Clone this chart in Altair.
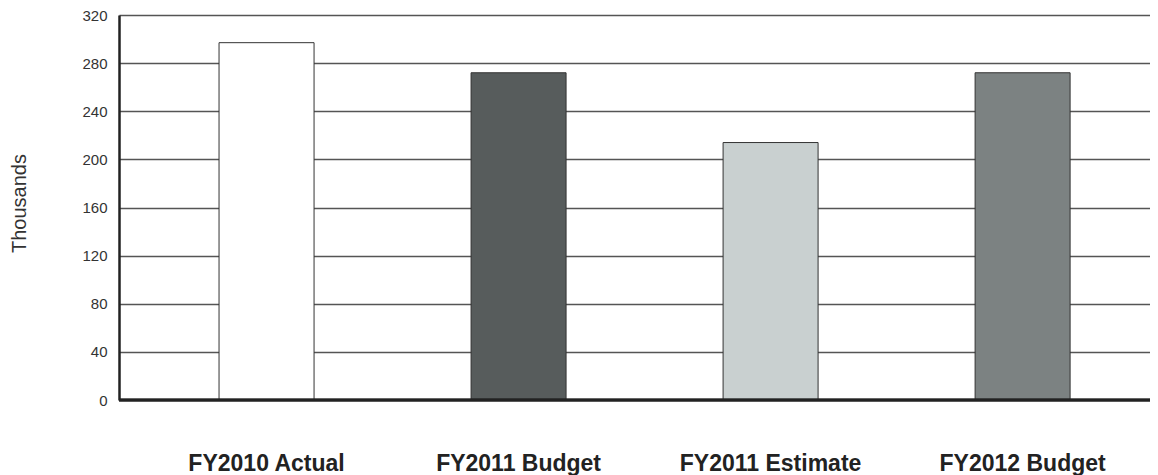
import altair as alt
import pandas as pd

categories = ["FY2010 Actual", "FY2011 Budget", "FY2011 Estimate", "FY2012 Budget"]
values = [297, 272, 214, 272]
colors = ["#ffffff", "#575c5c", "#c9d0d0", "#7c8282"]

df = pd.DataFrame({"cat": categories, "val": values})

chart = alt.Chart(df).mark_bar(stroke="#333333", strokeWidth=1).encode(
    x=alt.X("cat:N", sort=categories,
            scale=alt.Scale(paddingInner=0.623, paddingOuter=0.357, align=0.556),
            axis=alt.Axis(title=None, labelAngle=0, ticks=False, domain=False,
                          labelFont="Liberation Sans", labelFontSize=23, labelFontWeight="bold",
                          labelColor="#222222", labelPadding=52, labelBaseline="top",
                          labelLimit=0)),
    y=alt.Y("val:Q", scale=alt.Scale(domain=[0, 320], nice=False),
            axis=alt.Axis(title="Thousands", values=list(range(0, 321, 40)), ticks=False,
                          labelFont="Liberation Sans", labelFontSize=15, labelColor="#333333",
                          labelPadding=12, grid=True, gridColor="#555555", gridWidth=1.5,
                          domain=True, domainColor="#222222", domainWidth=2.5,
                          titleFont="Liberation Sans", titleFontSize=20, titleFontWeight="normal",
                          titleColor="#333333", titleX=-94, titleY=188, titleAngle=270,
                          titleAlign="center", titleBaseline="alphabetic")),
    color=alt.Color("cat:N", sort=categories,
                    scale=alt.Scale(domain=categories, range=colors), legend=None),
)

baseline = alt.Chart(df).mark_rule(color="#222222", strokeWidth=2.5).encode(
    y=alt.datum(0)
)

final = alt.layer(chart, baseline).properties(
    width=1031, height=385,
    autosize=alt.AutoSizeParams(type="none"),
    padding={"left": 111, "top": 7, "right": 0, "bottom": 75},
).configure_view(strokeWidth=0).configure(background="#ffffff")

final.save("out.html", embed_options={"renderer": "svg", "actions": False})
